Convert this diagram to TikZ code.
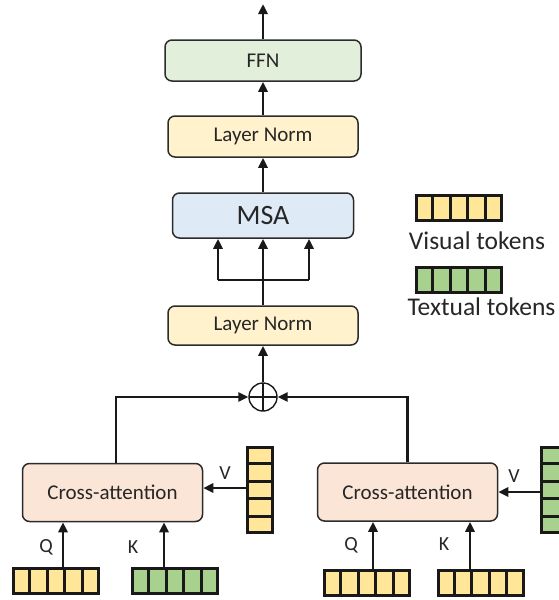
\documentclass[tikz,border=0pt]{standalone}
\usepackage{fontspec}
\setmainfont{Carlito}
\usetikzlibrary{arrows.meta,positioning,calc,shadows}

\definecolor{ffngreen}{HTML}{E2EFDA}
\definecolor{lnyellow}{HTML}{FFF2CC}
\definecolor{msablue}{HTML}{DEEBF7}
\definecolor{capeach}{HTML}{FBE5D6}
\definecolor{tokyellow}{HTML}{FFE699}
\definecolor{tokgreen}{HTML}{A9D18E}
\definecolor{edgegray}{HTML}{2B2B2B}

% token strips: name, centre, fill
\newcommand{\tokrow}[3]{%
  \node[tokstrip, minimum width=85pt, minimum height=25pt, fill=#3] (#1) at (#2) {};
  \foreach \k in {1,...,4}
    \draw[tokline] ($(#1.north west)!\k/5!(#1.north east)$) -- ($(#1.south west)!\k/5!(#1.south east)$);
}
\newcommand{\tokcol}[3]{%
  \node[tokstrip, minimum width=25pt, minimum height=85pt, fill=#3] (#1) at (#2) {};
  \foreach \k in {1,...,4}
    \draw[tokline] ($(#1.north west)!\k/5!(#1.south west)$) -- ($(#1.north east)!\k/5!(#1.south east)$);
}

\begin{document}
\begin{tikzpicture}[
    x=1pt, y=-1pt,
    box/.style={draw=edgegray, line width=1.5pt, rounded corners=7pt, minimum height=41pt,
      inner sep=0pt, text=black!85, font=\fontsize{21}{25}\selectfont},
    cabox/.style={box, fill=capeach, minimum width=180pt, minimum height=58pt},
    tokstrip/.style={draw=black!90, line width=3pt, inner sep=0pt,
      drop shadow={shadow xshift=1.5pt, shadow yshift=-1.5pt, fill=black, opacity=0.25}},
    tokline/.style={draw=black!90, line width=3pt},
    conn/.style={draw=black!90, line width=2.6pt},
    arr/.style={conn, -{Triangle[length=10pt,width=9pt]}},
    oplus/.style={circle, draw=black!90, line width=1.4pt, minimum size=28pt, inner sep=0pt,
      path picture={\draw[line width=1.4pt] (path picture bounding box.north) -- (path picture bounding box.south)
        (path picture bounding box.west) -- (path picture bounding box.east);}},
    lab/.style={text=black!85, font=\fontsize{20}{24}\selectfont},
    legend/.style={text=black!85, font=\fontsize{25.5}{30}\selectfont},
  ]
\useasboundingbox (0,0) rectangle (559,600);
\clip (0,0) rectangle (559,600);

% encoder stack
\node[box, fill=ffngreen, minimum width=196pt] (ffn) at (263,60.5) {FFN};
\node[box, fill=lnyellow, minimum width=190pt] (ln2) at (263,136.5) {Layer Norm};
\node[box, fill=msablue, minimum width=181pt, minimum height=45pt, font=\fontsize{28}{33}\selectfont] (msa) at (263,215.5) {MSA};
\node[box, fill=lnyellow, minimum width=190pt, minimum height=39pt] (ln1) at (263,325.5) {Layer Norm};
\node[oplus] (sum) at (263,397) {};
\coordinate (out) at (263,4);
\coordinate (fork) at (263,280);

\draw[arr] (ffn.north) -- (out);
\draw[arr] (ln2.north) -- (ffn.south);
\draw[arr] (msa.north) -- (ln2.south);
\draw[conn] (ln1.north) -- (fork);
\draw[conn] ([xshift=-45pt]fork) -- ([xshift=46pt]fork);
\foreach \dx in {-45,0,46}
  \draw[arr] ([xshift=\dx pt]fork) -- ([xshift=\dx pt]fork |- msa.south);
\draw[arr] (sum.north) -- (ln1.south);

% cross-attention branches
\node[cabox] (ca1) at (112.5,492.5) {Cross-attention};
\node[cabox] (ca2) at (407.5,492) {Cross-attention};
\draw[arr] ([xshift=3.5pt]ca1.north) |- (sum.west);
\draw[arr] (ca2.north) |- (sum.east);

% tokens, left
\tokrow{q1}{56,580.5}{tokyellow}
\tokrow{k1}{175,580.5}{tokgreen}
\tokcol{v1}{259.5,490}{tokyellow}
\draw[arr] ([xshift=7pt]q1.north) -- ([xshift=7pt]q1.north |- ca1.south);
\draw[arr] ([xshift=-11pt]k1.north) -- ([xshift=-11pt]k1.north |- ca1.south);
\draw[arr] ([yshift=2pt]v1.west) -- ([yshift=2pt]v1.west -| ca1.east);
\node[lab] (lq1) at (46,547) {Q};
\node[lab] (lk1) at (133,547) {K};
\node[lab] (lv1) at (225,473) {V};

% tokens, right
\tokrow{q2}{367,583}{tokyellow}
\tokrow{k2}{480.5,583}{tokyellow}
\tokcol{v2}{553.5,490}{tokgreen}
\draw[arr] ([xshift=6pt]q2.north) -- ([xshift=6pt]q2.north |- ca2.south);
\draw[arr] ([xshift=-10.5pt]k2.north) -- ([xshift=-10.5pt]k2.north |- ca2.south);
\draw[arr] ([yshift=-2pt]v2.west) -- ([yshift=-2pt]v2.west -| ca2.east);
\node[lab] (lq2) at (351,545) {Q};
\node[lab] (lk2) at (444,544) {K};
\node[lab] (lv2) at (514,476) {V};

% legend
\tokrow{vis}{459,208}{tokyellow}
\node[legend] (vistxt) at (477,241) {Visual tokens};
\tokrow{txt}{459,279.5}{tokgreen}
\node[legend, anchor=west] (txttxt) at (404,307) {Textual tokens};
\end{tikzpicture}
\end{document}
